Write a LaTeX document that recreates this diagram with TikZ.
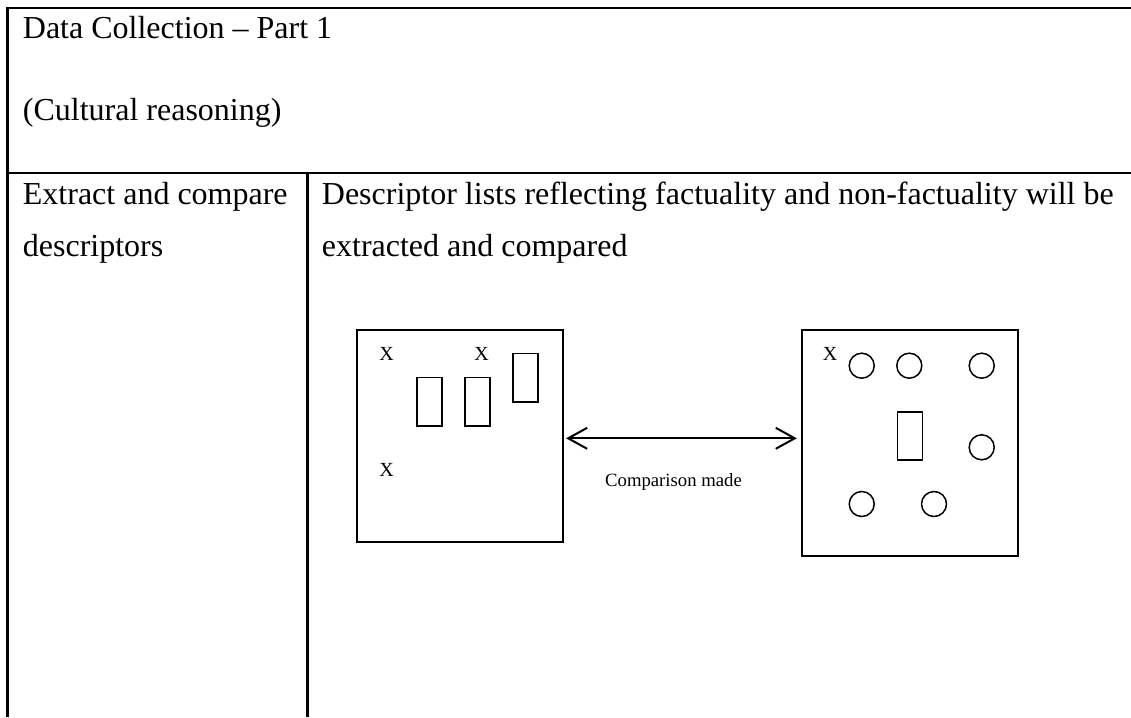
\documentclass[tikz,border=0pt]{standalone}
\usepackage{fontspec}
\setmainfont{Liberation Serif}
\usetikzlibrary{arrows.meta}
\begin{document}
\begin{tikzpicture}[x=1pt,y=-1pt,
  rule/.style={line width=2.2pt},
  celltext/.style={anchor=base west,inner sep=0pt,font=\fontsize{32}{38}\selectfont},
  panel/.style={draw,line width=1.8pt,inner sep=0pt},
  bar/.style={draw,line width=1.6pt,inner sep=0pt,minimum width=24.7pt,minimum height=48.3pt},
  dot/.style={draw,circle,line width=1.5pt,inner sep=0pt,minimum size=25pt},
  xmark/.style={anchor=base,inner sep=0pt,font=\fontsize{20}{24}\selectfont},
  tag/.style={anchor=base west,inner sep=0pt,font=\fontsize{18.7}{22}\selectfont}]
\useasboundingbox (0,0) rectangle (1131,717);
\fill[white] (0,0) rectangle (1131,717);

% table rules
\draw[rule] (1131,8) -- (7.5,8) -- (7.5,717);
\draw[rule] (7.5,173) -- (1131,173);
\draw[rule] (307.5,173) -- (307.5,717);

% header cell
\node[celltext] (h1) at (22.7,39) {Data Collection – Part 1};
\node[celltext] (h2) at (22.7,120) {(Cultural reasoning)};

% left cell
\node[celltext] (l1) at (22.7,204) {Extract and compare};
\node[celltext] (l2) at (22.7,256) {descriptors};

% right cell
\node[celltext] (r1) at (321.7,204) {Descriptor lists reflecting factuality and non-factuality will be};
\node[celltext] (r2) at (321.7,256) {extracted and compared};

% left panel
\node[panel,minimum width=205.4pt,minimum height=211.7pt] (lbox) at (460,435.85) {};
\node[xmark] (lx1) at (386.7,360) {X};
\node[xmark] (lx2) at (481.7,360) {X};
\node[xmark] (lx3) at (386.7,476.7) {X};
\node[bar] (lb1) at (429.6,401.8) {};
\node[bar] (lb2) at (477.6,401.8) {};
\node[bar] (lb3) at (525.6,377.7) {};

% right panel
\node[panel,minimum width=216.6pt,minimum height=226pt] (rbox) at (910,443) {};
\node[xmark] (rx1) at (830,360) {X};
\node[dot] (c1) at (861.7,365.7) {};
\node[dot] (c2) at (909.3,365.7) {};
\node[dot] (c3) at (981.7,365.7) {};
\node[dot] (c4) at (981.7,447.3) {};
\node[dot] (c5) at (861.7,504) {};
\node[dot] (c6) at (934,504) {};
\node[bar] (rb1) at (910,435.85) {};

% comparison arrow
\coordinate (ay) at (0,438.3);
\draw[line width=2pt,{Straight Barb[length=19pt,width=21pt]}-{Straight Barb[length=19pt,width=21pt]}]
  ([xshift=2.5pt]lbox.east |- ay) -- ([xshift=-4pt]rbox.west |- ay);
\node[tag] (cmp) at (605,486) {Comparison made};
\end{tikzpicture}
\end{document}
